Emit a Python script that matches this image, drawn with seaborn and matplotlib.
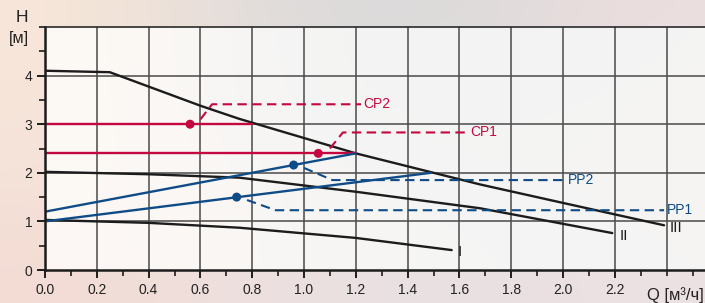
import numpy as np
import seaborn as sns
import matplotlib.pyplot as plt
from matplotlib.ticker import MultipleLocator

# pump curves I, II, III
q_I = [0.0, 0.4, 0.75, 1.2, 1.57]
h_I = [1.03, 0.97, 0.87, 0.66, 0.41]
q_II = [0.0, 0.4, 0.75, 1.2, 1.68, 2.19]
h_II = [2.02, 1.97, 1.9, 1.61, 1.27, 0.76]
q_III = [0.0, 0.25, 0.6, 0.75, 1.2, 1.68, 2.0, 2.39]
h_III = [4.1, 4.07, 3.38, 3.11, 2.4, 1.76, 1.38, 0.92]

# constant pressure (CP) and proportional pressure (PP) lines
cp2_q, cp2_h = [0.0, 0.8], [3.0, 3.0]
cp1_q, cp1_h = [0.0, 1.2], [2.4, 2.4]
pp2_q, pp2_h = [0.0, 1.2], [1.2, 2.4]
pp1_q, pp1_h = [0.0, 1.49], [1.0, 2.0]

# duty points
pt_names = ['CP2', 'CP1', 'PP2', 'PP1']
pt_q = [0.56, 1.055, 0.96, 0.74]
pt_h = [3.0, 2.4, 2.16, 1.5]

# leader lines to the labels
lead_q = {'CP2': [0.6, 0.645, 1.22], 'CP1': [1.1, 1.15, 1.63],
          'PP2': [1.0, 1.11, 2.01], 'PP1': [0.78, 0.89, 2.39]}
lead_h = {'CP2': [3.1, 3.41, 3.41], 'CP1': [2.5, 2.83, 2.83],
          'PP2': [2.1, 1.85, 1.85], 'PP1': [1.44, 1.23, 1.23]}

x_ticks = [0.0, 0.2, 0.4, 0.6, 0.8, 1.0, 1.2, 1.4, 1.6, 1.8, 2.0, 2.2]
y_ticks = [0, 1, 2, 3, 4]

RED = '#c4083f'
BLUE = '#0f4c87'
colors = {'CP2': RED, 'CP1': RED, 'PP2': BLUE, 'PP1': BLUE}

sns.set_theme(style='white')
plt.rcParams['font.family'] = ['Liberation Sans', 'DejaVu Sans']

fig = plt.figure(figsize=(7.05, 3.03), dpi=100)

# background gradient
bg = fig.add_axes([0, 0, 1, 1], zorder=-2)
grid = np.array([
    [[248, 230, 216], [222, 219, 219], [217, 217, 217], [236, 222, 222]],
    [[246, 228, 218], [240, 232, 230], [236, 232, 232], [238, 228, 228]],
    [[243, 220, 212], [236, 224, 224], [232, 224, 226], [236, 224, 226]],
]) / 255.0
bg.imshow(grid, aspect='auto', interpolation='bicubic', extent=[0, 1, 0, 1])
bg.set_axis_off()

ax = fig.add_axes([45 / 705, 33 / 303, 660 / 705, 243 / 303])
ax.set_xlim(0, 2.548)
ax.set_ylim(0, 5)
inner = np.array([[[253, 249, 245], [244, 244, 244], [243, 243, 243], [245, 244, 243]],
                  [[253, 248, 244], [248, 246, 245], [245, 245, 245], [246, 245, 244]]]) / 255.0
ax.imshow(inner, aspect='auto', interpolation='bicubic',
          extent=[0, 2.548, 0, 5], zorder=0)

# grid
for x in np.arange(0.2, 2.5, 0.2):
    ax.axvline(x, color='#4a4a4a', lw=1.1, zorder=1)
for y in y_ticks[1:]:
    ax.axhline(y, color='#4a4a4a', lw=1.1, zorder=1)

# pump curves
for q, h in [(q_I, h_I), (q_II, h_II), (q_III, h_III)]:
    sns.lineplot(x=q, y=h, ax=ax, color='#1c1c1c', lw=1.7,
                 estimator=None, sort=False, zorder=3)

# control lines
for q, h, c in [(cp2_q, cp2_h, RED), (cp1_q, cp1_h, RED),
                (pp2_q, pp2_h, BLUE), (pp1_q, pp1_h, BLUE)]:
    sns.lineplot(x=q, y=h, ax=ax, color=c, lw=1.7,
                 estimator=None, sort=False, zorder=4)

for name in pt_names:
    sns.lineplot(x=lead_q[name], y=lead_h[name], ax=ax, color=colors[name],
                 lw=1.5, estimator=None, sort=False, zorder=4)
    ax.lines[-1].set_dashes((4.5, 2.6))
    ax.text(lead_q[name][-1] + 0.01, lead_h[name][-1], name,
            color=colors[name], fontsize=10, ha='left', va='center', zorder=5)

sns.scatterplot(x=pt_q, y=pt_h, ax=ax, hue=pt_names, palette=colors,
                s=42, edgecolor='none', legend=False, zorder=6)

# curve labels
ax.text(1.6, 0.37, 'I', fontsize=11, ha='center', va='center', color='#1c1c1c')
ax.text(2.235, 0.70, 'II', fontsize=11, ha='center', va='center', color='#1c1c1c')
ax.text(2.435, 0.86, 'III', fontsize=11, ha='center', va='center', color='#1c1c1c')

# axes and ticks
ax.set_xticks(x_ticks)
ax.set_xticklabels([f'{v:.1f}' for v in x_ticks])
ax.set_yticks(y_ticks)
ax.xaxis.set_minor_locator(MultipleLocator(0.1))
ax.yaxis.set_minor_locator(MultipleLocator(0.5))
ax.tick_params(axis='both', which='major', direction='out', length=6, width=1.4,
               color='#1c1c1c', labelsize=10, labelcolor='#222222', pad=3,
               bottom=True, left=True)
ax.tick_params(axis='both', which='minor', direction='out', length=4, width=1.2,
               color='#1c1c1c', bottom=True, left=True)
for side in ['left', 'bottom']:
    ax.spines[side].set_color('#1c1c1c')
    ax.spines[side].set_linewidth(1.8)
ax.spines['top'].set_color('#2a2a2a')
ax.spines['top'].set_linewidth(1.2)
ax.spines['right'].set_visible(False)
for s in ax.spines.values():
    s.set_zorder(7)

fig.text(647 / 705, 1 - 295 / 303, 'Q [м³/ч]', fontsize=12, ha='left',
         va='center', color='#222222')
fig.text(22 / 705, 1 - 18 / 303, 'H', fontsize=12.5, ha='center',
         va='center', color='#222222')
fig.text(19 / 705, 1 - 39 / 303, '[м]', fontsize=11.5, ha='center',
         va='center', color='#222222')

fig.savefig('out.png', dpi=100)
